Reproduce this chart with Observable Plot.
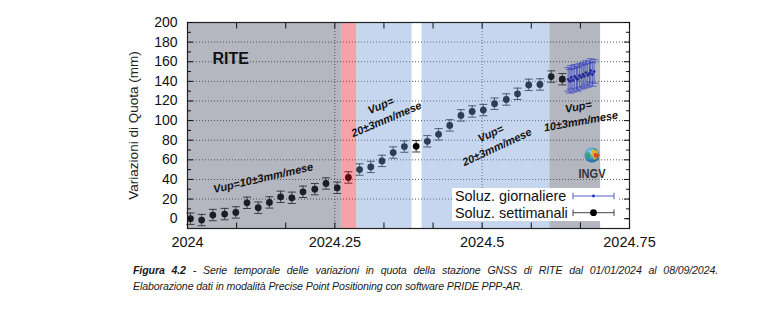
<!DOCTYPE html>
<html><head><meta charset="utf-8">
<script src="https://cdn.jsdelivr.net/npm/d3@7"></script>
<script src="https://cdn.jsdelivr.net/npm/@observablehq/plot@0.6"></script>
<style>
body{margin:0;background:#fff;font-family:"Liberation Sans",Arial,sans-serif;}
#wrap{position:relative;width:767px;height:324px;overflow:hidden;background:#fff;}
#chart{position:absolute;left:0;top:0;}
#legend{position:absolute;left:452px;top:188px;}
#logo{position:absolute;left:572px;top:144px;overflow:visible;}
#cap{position:absolute;left:133px;top:262px;width:585px;font-style:italic;font-size:10.6px;letter-spacing:-0.12px;font-family:"Liberation Sans",Arial,sans-serif;color:#1a1a1a;line-height:16px;}
#cap .l1{text-align:justify;text-align-last:justify;white-space:nowrap;}
</style></head>
<body><div id="wrap">
<div id="chart"></div>
<svg id="legend" width="166" height="33">
  <rect width="166" height="33" fill="#fff"/>
  <text x="3" y="13" font-size="14.4" fill="#111">Soluz. giornaliere</text>
  <text x="3" y="29.7" font-size="14.4" fill="#111">Soluz. settimanali</text>
  <g stroke="#5560c8" stroke-width="1"><line x1="121" x2="162" y1="8" y2="8"/><line x1="121" x2="121" y1="4.7" y2="11.3"/><line x1="162" x2="162" y1="4.7" y2="11.3"/></g>
  <circle cx="141.5" cy="8" r="1.4" fill="#1a2bd0"/>
  <g stroke="#444" stroke-width="1"><line x1="121" x2="162" y1="24.7" y2="24.7"/><line x1="121" x2="121" y1="21.4" y2="28"/><line x1="162" x2="162" y1="21.4" y2="28"/></g>
  <circle cx="141.5" cy="24.7" r="3.4" fill="#000"/>
</svg>
<svg id="logo" width="40" height="44">
  <defs><radialGradient id="g" cx="0.4" cy="0.35" r="0.7"><stop offset="0" stop-color="#9fe0f0"/><stop offset="0.6" stop-color="#2f93c2"/><stop offset="1" stop-color="#1f5f8f"/></radialGradient></defs>
  <circle cx="20" cy="11" r="7.5" fill="url(#g)"/>
  <path d="M20 5 L26 7 L27 13 L22 16 L20 11 Z" fill="#e6b422" opacity="0.9"/>
  <path d="M22 9 L27 10 L26 14 L22 13 Z" fill="#d93a2b" opacity="0.9"/>
  <path d="M14 9 L18 8 L19 13 L15 14 Z" fill="#3a9a4a" opacity="0.8"/>
  <text x="20" y="34" text-anchor="middle" font-family="'Liberation Sans',Arial" font-weight="bold" font-size="13.5" fill="#333" textLength="27" lengthAdjust="spacingAndGlyphs">INGV</text>
</svg>
<div id="cap"><div class="l1"><b>Figura 4.2</b> - Serie temporale delle variazioni in quota della stazione GNSS di RITE dal 01/01/2024 al 08/09/2024.</div><div>Elaborazione dati in modalità Precise Point Positioning con software PRIDE PPP-AR.</div></div>
</div>
<script>
// Weekly solutions (decimal year, mm)
const weeklyT = [2024.005, 2024.024, 2024.043, 2024.063, 2024.082, 2024.101, 2024.120, 2024.139, 2024.158, 2024.177,
  2024.196, 2024.216, 2024.235, 2024.254, 2024.273, 2024.292, 2024.311, 2024.330, 2024.349, 2024.368,
  2024.388, 2024.407, 2024.426, 2024.445, 2024.464, 2024.483, 2024.502, 2024.521, 2024.541, 2024.560,
  2024.579, 2024.598, 2024.617, 2024.636];
const weeklyV = [0.0, -1.4, 3.7, 4.7, 6.4, 16.2, 11.2, 16.6, 22.3, 21.3,
  27.4, 30.1, 35.9, 31.5, 42.0, 50.1, 52.8, 58.9, 67.4, 73.5,
  73.8, 78.9, 86.0, 95.1, 105.3, 109.3, 110.7, 117.2, 121.5, 127.3,
  136.4, 136.8, 144.9, 142.2];
const weeklyErr = 5.8;
// Daily solutions
const dailyT = [2024.646, 2024.649, 2024.651, 2024.654, 2024.657, 2024.660, 2024.662, 2024.665, 2024.668,
  2024.671, 2024.673, 2024.676, 2024.679, 2024.682, 2024.684, 2024.687, 2024.690];
const dailyV = [142, 140, 144, 141, 145, 143, 142, 146, 144, 147, 145, 149, 146, 148, 151, 147, 150];
const dailyErr = 12;
// Background periods
const bandStart = [2024.000, 2024.262, 2024.287, 2024.398, 2024.615];
const bandEnd   = [2024.262, 2024.287, 2024.381, 2024.615, 2024.701];
const bandColor = ["#434861", "#e61925", "#6e98d4", "#6e98d4", "#434861"];
// Ticks
const yLabels = [0, 20, 40, 60, 80, 100, 120, 140, 160, 180, 200];
const yMinor = [0, 10, 30, 50, 70, 90, 110, 130, 150, 170, 190];
const xLabels = [2024, 2024.25, 2024.5, 2024.75];
const xMonths = [2024, 2024 + 1/12, 2024 + 2/12, 2024 + 3/12, 2024 + 4/12, 2024 + 5/12, 2024 + 6/12, 2024 + 7/12, 2024 + 8/12, 2024 + 9/12];
// Annotations
const noteX = [2024.128, 2024.332, 2024.519, 2024.665];
const noteY = [42.6, 109.3, 80.9, 107.8];
const noteText = ["Vup=10±3mm/mese", "Vup=\n20±3mm/mese", "Vup=\n20±3mm/mese", "Vup=\n10±3mm/mese"];
const noteAngle = [-13, -23, -25, -10];

const weekly = weeklyT.map((t, i) => ({t, v: weeklyV[i]}));
const daily = dailyT.map((t, i) => ({t, v: dailyV[i]}));
const bands = bandStart.map((s, i) => ({x1: s, x2: bandEnd[i], color: bandColor[i]}));
const notes = noteX.map((x, i) => ({x, y: noteY[i], text: noteText[i], angle: noteAngle[i]}));
const cap = {draw(ctx, size) { const r = Math.sqrt(size / Math.PI); ctx.moveTo(-r, 0); ctx.lineTo(r, 0); }};
const blank = () => "";

const chart = Plot.plot({
  width: 767, height: 255,
  marginLeft: 187, marginRight: 138, marginTop: 22, marginBottom: 27,
  x: {domain: [2024, 2024.75], label: null},
  y: {domain: [-10, 200], label: null},
  color: {type: "identity"},
  style: {fontFamily: "'Liberation Sans', Arial, sans-serif", fontSize: "14px", color: "#111", background: "transparent"},
  marks: [
    Plot.gridY(yLabels.filter(d => d > 0 && d < 200), {stroke: "#555", strokeOpacity: 1, strokeDasharray: "1,2"}),
    Plot.gridX([2024.25, 2024.5], {stroke: "#555", strokeOpacity: 1, strokeDasharray: "1,2"}),
    Plot.ruleX(daily, {x: "t", y1: d => d.v - dailyErr, y2: d => d.v + dailyErr, stroke: "#2634ff", strokeWidth: 0.7}),
    Plot.dot(daily, {x: "t", y: d => d.v + dailyErr, symbol: cap, r: 4, stroke: "#2634ff", fill: "none", strokeWidth: 0.7}),
    Plot.dot(daily, {x: "t", y: d => d.v - dailyErr, symbol: cap, r: 4, stroke: "#2634ff", fill: "none", strokeWidth: 0.7}),
    Plot.line(daily, {x: "t", y: "v", stroke: "#1a2bd0", strokeWidth: 0.6}),
    Plot.dot(daily, {x: "t", y: "v", r: 1.4, fill: "#0a18b0"}),
    Plot.ruleX(weekly, {x: "t", y1: d => d.v - weeklyErr, y2: d => d.v + weeklyErr, stroke: "#333", strokeWidth: 1}),
    Plot.dot(weekly, {x: "t", y: d => d.v + weeklyErr, symbol: cap, r: 4, stroke: "#333", fill: "none", strokeWidth: 1}),
    Plot.dot(weekly, {x: "t", y: d => d.v - weeklyErr, symbol: cap, r: 4, stroke: "#333", fill: "none", strokeWidth: 1}),
    Plot.dot(weekly, {x: "t", y: "v", r: 3.4, fill: "#000"}),
    Plot.rect(bands, {x1: "x1", x2: "x2", fill: "color", fillOpacity: 0.4}),
    Plot.frame({stroke: "#222", strokeWidth: 1.2}),
    Plot.axisY(yLabels, {anchor: "left", tickSize: 0, tickPadding: 10, fontSize: 14, label: null}),
    Plot.axisY(yLabels, {anchor: "left", tickSize: -6, tickFormat: blank, label: null}),
    Plot.axisY(yMinor, {anchor: "left", tickSize: -4, tickFormat: blank, label: null}),
    Plot.axisY(yLabels, {anchor: "right", tickSize: -6, tickFormat: blank, label: null}),
    Plot.axisY(yMinor, {anchor: "right", tickSize: -4, tickFormat: blank, label: null}),
    Plot.axisX(xLabels, {anchor: "bottom", tickSize: 0, tickPadding: 8, fontSize: 14.5, label: null, tickFormat: d => String(+d.toFixed(2))}),
    Plot.axisX(xMonths, {anchor: "bottom", tickSize: -5.5, tickFormat: blank, label: null}),
    Plot.axisX(xMonths, {anchor: "top", tickSize: -5.5, tickFormat: blank, label: null}),
    Plot.text(["Variazioni di Quota (mm)"], {frameAnchor: "left", textAnchor: "middle", lineAnchor: "middle", rotate: -90, dx: -54, fontSize: 13.5, fill: "#222"}),
    Plot.text(["RITE"], {frameAnchor: "top-left", dx: 25, dy: 30, textAnchor: "start", fontSize: 16, fontWeight: "bold", fill: "#111"}),
    Plot.text(notes, {x: "x", y: "y", text: "text", rotate: "angle", fontSize: 11, fontWeight: "bold", fontStyle: "italic", lineHeight: 1.35, fill: "#111"})
  ]
});
document.getElementById("chart").appendChild(chart);
</script>
</body></html>
